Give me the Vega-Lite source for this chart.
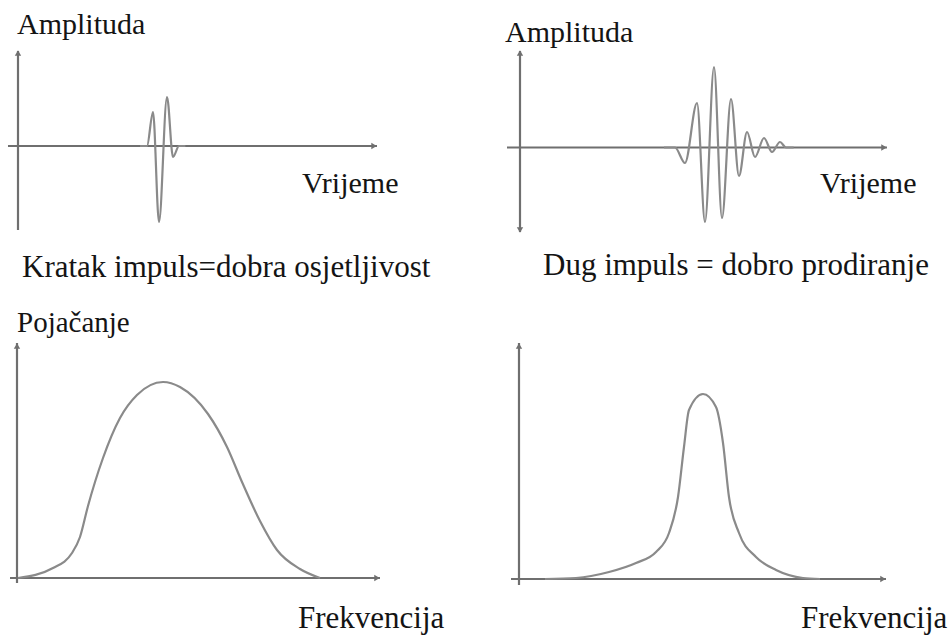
{
  "$schema": "https://vega.github.io/schema/vega-lite/v6.json",
  "padding": 0,
  "background": "white",
  "spacing": 0,
  "bounds": "flush",
  "columns": 2,
  "config": {"view": {"stroke": null}, "text": {"font": "Liberation Serif, Times New Roman, DejaVu Serif, serif"}},
  "data": {"values": [
    {"p": "tl", "k": "ax", "g": "h", "x": -2.78, "y": 0},
    {"p": "tl", "k": "ax", "g": "h", "x": 99.72, "y": 0},
    {"p": "tl", "k": "ax", "g": "v", "x": 0, "y": 1.9},
    {"p": "tl", "k": "ax", "g": "v", "x": 0, "y": -1.68},
    {"p": "tl", "k": "arr", "dir": "right", "x": 98.9, "y": 0},
    {"p": "tl", "k": "arr", "dir": "up", "x": 0, "y": 1.86},
    {"p": "tl", "k": "sig", "x": 33.9, "y": 0},
    {"p": "tl", "k": "sig", "x": 35.83, "y": 0},
    {"p": "tl", "k": "sig", "x": 37.5, "y": 0.68},
    {"p": "tl", "k": "sig", "x": 39.17, "y": -1.52},
    {"p": "tl", "k": "sig", "x": 41.39, "y": 0.98},
    {"p": "tl", "k": "sig", "x": 43.06, "y": -0.22},
    {"p": "tl", "k": "sig", "x": 44.72, "y": 0},
    {"p": "tl", "k": "sig", "x": 46.5, "y": 0},
    {"p": "tl", "k": "txt", "label": "Amplituda", "x": -0.28, "y": 2.24},
    {"p": "tl", "k": "txt", "label": "Vrijeme", "x": 78.89, "y": -0.94},
    {"p": "tl", "k": "cap", "label": "Kratak impuls=dobra osjetljivost", "x": 1.11, "y": -2.62},

    {"p": "tr", "k": "ax", "g": "h", "x": -3.61, "y": 0},
    {"p": "tr", "k": "ax", "g": "h", "x": 101.94, "y": 0},
    {"p": "tr", "k": "ax", "g": "v", "x": 0, "y": 1.93},
    {"p": "tr", "k": "ax", "g": "v", "x": 0, "y": -1.69},
    {"p": "tr", "k": "arr", "dir": "right", "x": 101.1, "y": 0},
    {"p": "tr", "k": "arr", "dir": "up", "x": 0, "y": 1.89},
    {"p": "tr", "k": "arr", "dir": "down", "x": 0, "y": -1.65},
    {"p": "tr", "k": "sig", "x": 40, "y": 0},
    {"p": "tr", "k": "sig", "x": 43.06, "y": 0},
    {"p": "tr", "k": "sig", "x": 45.83, "y": -0.31},
    {"p": "tr", "k": "sig", "x": 49.17, "y": 0.89},
    {"p": "tr", "k": "sig", "x": 51.39, "y": -1.49},
    {"p": "tr", "k": "sig", "x": 53.89, "y": 1.61},
    {"p": "tr", "k": "sig", "x": 56.11, "y": -1.41},
    {"p": "tr", "k": "sig", "x": 58.61, "y": 0.97},
    {"p": "tr", "k": "sig", "x": 60.83, "y": -0.57},
    {"p": "tr", "k": "sig", "x": 63.06, "y": 0.31},
    {"p": "tr", "k": "sig", "x": 65.28, "y": -0.19},
    {"p": "tr", "k": "sig", "x": 67.78, "y": 0.19},
    {"p": "tr", "k": "sig", "x": 70, "y": -0.09},
    {"p": "tr", "k": "sig", "x": 72.22, "y": 0.11},
    {"p": "tr", "k": "sig", "x": 73.89, "y": 0},
    {"p": "tr", "k": "sig", "x": 76, "y": 0},
    {"p": "tr", "k": "txt", "label": "Amplituda", "x": -4.17, "y": 2.11},
    {"p": "tr", "k": "txt", "label": "Vrijeme", "x": 83.33, "y": -0.91},
    {"p": "tr", "k": "cap", "label": "Dug impuls = dobro prodiranje", "x": 6.39, "y": -2.55},

    {"p": "bl", "k": "ax", "g": "h", "x": -1.94, "y": 0},
    {"p": "bl", "k": "ax", "g": "h", "x": 100.83, "y": 0},
    {"p": "bl", "k": "ax", "g": "v", "x": 0, "y": 1.175},
    {"p": "bl", "k": "ax", "g": "v", "x": 0, "y": -0.025},
    {"p": "bl", "k": "arr", "dir": "right", "x": 100, "y": 0},
    {"p": "bl", "k": "arr", "dir": "up", "x": 0, "y": 1.16},
    {"p": "bl", "k": "sig", "x": 0.28, "y": 0},
    {"p": "bl", "k": "sig", "x": 10, "y": 0.05},
    {"p": "bl", "k": "sig", "x": 15.28, "y": 0.125},
    {"p": "bl", "k": "sig", "x": 17.5, "y": 0.205},
    {"p": "bl", "k": "sig", "x": 19.72, "y": 0.36},
    {"p": "bl", "k": "sig", "x": 23.89, "y": 0.6},
    {"p": "bl", "k": "sig", "x": 28.61, "y": 0.8},
    {"p": "bl", "k": "sig", "x": 33.33, "y": 0.915},
    {"p": "bl", "k": "sig", "x": 40.56, "y": 0.98},
    {"p": "bl", "k": "sig", "x": 45.28, "y": 0.955},
    {"p": "bl", "k": "sig", "x": 53.06, "y": 0.82},
    {"p": "bl", "k": "sig", "x": 58.33, "y": 0.655},
    {"p": "bl", "k": "sig", "x": 62.5, "y": 0.48},
    {"p": "bl", "k": "sig", "x": 67.5, "y": 0.285},
    {"p": "bl", "k": "sig", "x": 72.22, "y": 0.14},
    {"p": "bl", "k": "sig", "x": 78.61, "y": 0.045},
    {"p": "bl", "k": "sig", "x": 84.17, "y": 0},
    {"p": "bl", "k": "txt", "label": "Pojačanje", "x": 0, "y": 1.23},
    {"p": "bl", "k": "cap", "label": "Frekvencija", "x": 78.06, "y": -0.25},

    {"p": "br", "k": "ax", "g": "h", "x": -2.22, "y": 0},
    {"p": "br", "k": "ax", "g": "h", "x": 101.94, "y": 0},
    {"p": "br", "k": "ax", "g": "v", "x": 0, "y": 1.18},
    {"p": "br", "k": "ax", "g": "v", "x": 0, "y": -0.03},
    {"p": "br", "k": "arr", "dir": "right", "x": 101.1, "y": 0},
    {"p": "br", "k": "arr", "dir": "up", "x": 0, "y": 1.165},
    {"p": "br", "k": "sig", "x": 7.22, "y": 0},
    {"p": "br", "k": "sig", "x": 15.83, "y": 0.005},
    {"p": "br", "k": "sig", "x": 25, "y": 0.035},
    {"p": "br", "k": "sig", "x": 32.5, "y": 0.08},
    {"p": "br", "k": "sig", "x": 38.06, "y": 0.135},
    {"p": "br", "k": "sig", "x": 41.67, "y": 0.23},
    {"p": "br", "k": "sig", "x": 44.17, "y": 0.41},
    {"p": "br", "k": "sig", "x": 45.83, "y": 0.66},
    {"p": "br", "k": "sig", "x": 47.22, "y": 0.845},
    {"p": "br", "k": "sig", "x": 51.11, "y": 0.925},
    {"p": "br", "k": "sig", "x": 54.72, "y": 0.86},
    {"p": "br", "k": "sig", "x": 56.67, "y": 0.68},
    {"p": "br", "k": "sig", "x": 58.33, "y": 0.41},
    {"p": "br", "k": "sig", "x": 61.11, "y": 0.23},
    {"p": "br", "k": "sig", "x": 65.83, "y": 0.11},
    {"p": "br", "k": "sig", "x": 71.39, "y": 0.045},
    {"p": "br", "k": "sig", "x": 78.89, "y": 0.005},
    {"p": "br", "k": "sig", "x": 83.61, "y": 0},
    {"p": "br", "k": "cap", "label": "Frekvencija", "x": 78.33, "y": -0.245}
  ]},
  "resolve": {"scale": {"x": "independent", "y": "independent", "shape": "shared"}},
  "concat": [
    {
      "width": 476, "height": 296,
      "transform": [{"filter": "datum.p === 'tl'"}],
      "encoding": {
        "x": {"field": "x", "type": "quantitative", "scale": {"domain": [-5, 127.222], "nice": false, "zero": false}, "axis": null},
        "y": {"field": "y", "type": "quantitative", "scale": {"domain": [-3, 2.92], "nice": false, "zero": false}, "axis": null}
      },
      "layer": [
        {"transform": [{"filter": "datum.k === 'ax'"}], "mark": {"type": "line", "color": "#6f6f6f", "strokeWidth": 2.2}, "encoding": {"detail": {"field": "g"}}},
        {"transform": [{"filter": "datum.k === 'sig'"}], "mark": {"type": "line", "color": "#8a8a8a", "strokeWidth": 2.2, "interpolate": "monotone"}},
        {"transform": [{"filter": "datum.k === 'arr'"}], "mark": {"type": "point", "filled": true, "color": "#6f6f6f", "size": 40, "opacity": 1}, "encoding": {"shape": {"field": "dir", "type": "nominal", "scale": {"domain": ["up", "right", "down"], "range": ["triangle-up", "triangle-right", "triangle-down"]}, "legend": null}}},
        {"transform": [{"filter": "datum.k === 'txt'"}], "mark": {"type": "text", "font": "Liberation Serif, Times New Roman, DejaVu Serif, serif", "fontSize": 30, "align": "left", "baseline": "alphabetic", "color": "#141414"}, "encoding": {"text": {"field": "label"}}},
        {"transform": [{"filter": "datum.k === 'cap'"}], "mark": {"type": "text", "font": "Liberation Serif, Times New Roman, DejaVu Serif, serif", "fontSize": 31, "align": "left", "baseline": "alphabetic", "color": "#141414"}, "encoding": {"text": {"field": "label"}}}
      ]
    },
    {
      "width": 476, "height": 296,
      "transform": [{"filter": "datum.p === 'tr'"}],
      "encoding": {
        "x": {"field": "x", "type": "quantitative", "scale": {"domain": [-12.222, 120], "nice": false, "zero": false}, "axis": null},
        "y": {"field": "y", "type": "quantitative", "scale": {"domain": [-2.97, 2.95], "nice": false, "zero": false}, "axis": null}
      },
      "layer": [
        {"transform": [{"filter": "datum.k === 'ax'"}], "mark": {"type": "line", "color": "#6f6f6f", "strokeWidth": 2.2}, "encoding": {"detail": {"field": "g"}}},
        {"transform": [{"filter": "datum.k === 'sig'"}], "mark": {"type": "line", "color": "#8a8a8a", "strokeWidth": 2.2, "interpolate": "monotone"}},
        {"transform": [{"filter": "datum.k === 'arr'"}], "mark": {"type": "point", "filled": true, "color": "#6f6f6f", "size": 40, "opacity": 1}, "encoding": {"shape": {"field": "dir", "type": "nominal", "scale": {"domain": ["up", "right", "down"], "range": ["triangle-up", "triangle-right", "triangle-down"]}, "legend": null}}},
        {"transform": [{"filter": "datum.k === 'txt'"}], "mark": {"type": "text", "font": "Liberation Serif, Times New Roman, DejaVu Serif, serif", "fontSize": 30, "align": "left", "baseline": "alphabetic", "color": "#141414"}, "encoding": {"text": {"field": "label"}}},
        {"transform": [{"filter": "datum.k === 'cap'"}], "mark": {"type": "text", "font": "Liberation Serif, Times New Roman, DejaVu Serif, serif", "fontSize": 31, "align": "left", "baseline": "alphabetic", "color": "#141414"}, "encoding": {"text": {"field": "label"}}}
      ]
    },
    {
      "width": 476, "height": 339,
      "transform": [{"filter": "datum.p === 'bl'"}],
      "encoding": {
        "x": {"field": "x", "type": "quantitative", "scale": {"domain": [-4.722, 127.5], "nice": false, "zero": false}, "axis": null},
        "y": {"field": "y", "type": "quantitative", "scale": {"domain": [-0.285, 1.41], "nice": false, "zero": false}, "axis": null}
      },
      "layer": [
        {"transform": [{"filter": "datum.k === 'ax'"}], "mark": {"type": "line", "color": "#6f6f6f", "strokeWidth": 2.2}, "encoding": {"detail": {"field": "g"}}},
        {"transform": [{"filter": "datum.k === 'sig'"}], "mark": {"type": "line", "color": "#8a8a8a", "strokeWidth": 2.2, "interpolate": "monotone"}},
        {"transform": [{"filter": "datum.k === 'arr'"}], "mark": {"type": "point", "filled": true, "color": "#6f6f6f", "size": 40, "opacity": 1}, "encoding": {"shape": {"field": "dir", "type": "nominal", "scale": {"domain": ["up", "right", "down"], "range": ["triangle-up", "triangle-right", "triangle-down"]}, "legend": null}}},
        {"transform": [{"filter": "datum.k === 'txt'"}], "mark": {"type": "text", "font": "Liberation Serif, Times New Roman, DejaVu Serif, serif", "fontSize": 29, "align": "left", "baseline": "alphabetic", "color": "#141414"}, "encoding": {"text": {"field": "label"}}},
        {"transform": [{"filter": "datum.k === 'cap'"}], "mark": {"type": "text", "font": "Liberation Serif, Times New Roman, DejaVu Serif, serif", "fontSize": 31, "align": "left", "baseline": "alphabetic", "color": "#141414"}, "encoding": {"text": {"field": "label"}}}
      ]
    },
    {
      "width": 476, "height": 339,
      "transform": [{"filter": "datum.p === 'br'"}],
      "encoding": {
        "x": {"field": "x", "type": "quantitative", "scale": {"domain": [-11.944, 120.278], "nice": false, "zero": false}, "axis": null},
        "y": {"field": "y", "type": "quantitative", "scale": {"domain": [-0.28, 1.415], "nice": false, "zero": false}, "axis": null}
      },
      "layer": [
        {"transform": [{"filter": "datum.k === 'ax'"}], "mark": {"type": "line", "color": "#6f6f6f", "strokeWidth": 2.2}, "encoding": {"detail": {"field": "g"}}},
        {"transform": [{"filter": "datum.k === 'sig'"}], "mark": {"type": "line", "color": "#8a8a8a", "strokeWidth": 2.2, "interpolate": "monotone"}},
        {"transform": [{"filter": "datum.k === 'arr'"}], "mark": {"type": "point", "filled": true, "color": "#6f6f6f", "size": 40, "opacity": 1}, "encoding": {"shape": {"field": "dir", "type": "nominal", "scale": {"domain": ["up", "right", "down"], "range": ["triangle-up", "triangle-right", "triangle-down"]}, "legend": null}}},
        {"transform": [{"filter": "datum.k === 'cap'"}], "mark": {"type": "text", "font": "Liberation Serif, Times New Roman, DejaVu Serif, serif", "fontSize": 31, "align": "left", "baseline": "alphabetic", "color": "#141414"}, "encoding": {"text": {"field": "label"}}}
      ]
    }
  ]
}
